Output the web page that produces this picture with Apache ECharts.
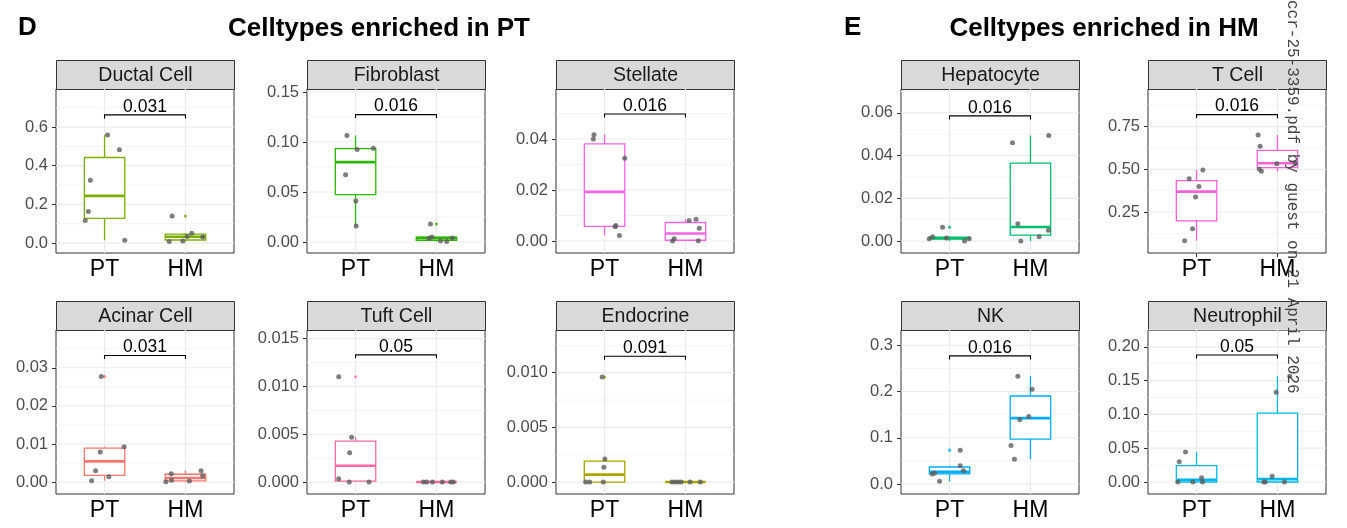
<!DOCTYPE html>
<html>
<head>
<meta charset="utf-8">
<script src="https://cdn.jsdelivr.net/npm/echarts@6/dist/echarts.min.js"></script>
<style>
  html, body { margin: 0; padding: 0; background: #fff; }
  #chart { width: 1347px; height: 528px; }
</style>
</head>
<body>
<div id="chart"></div>
<script>
// ---- data ----
const groups = ['PT', 'HM'];
const cellTypes = ['Ductal Cell', 'Fibroblast', 'Stellate', 'Acinar Cell', 'Tuft Cell', 'Endocrine',
                   'Hepatocyte', 'T Cell', 'NK', 'Neutrophil'];
const pValues = ['0.031', '0.016', '0.016', '0.031', '0.05', '0.091', '0.016', '0.016', '0.016', '0.05'];
const bracketY = [0.663, 0.1274, 0.0498, 0.0332, 0.0133, 0.0115, 0.0586, 0.820, 0.277, 0.188];
const yLimits = [[-0.052, 0.797], [-0.011, 0.153], [-0.0047, 0.0596], [-0.0031, 0.0399], [-0.00125, 0.0159],
                 [-0.00109, 0.0139], [-0.0056, 0.0712], [0.01, 0.97], [-0.0216, 0.333], [-0.0178, 0.225]];
const yTicks = [[0, 0.2, 0.4, 0.6], [0, 0.05, 0.1, 0.15], [0, 0.02, 0.04], [0, 0.01, 0.02, 0.03],
                [0, 0.005, 0.01, 0.015], [0, 0.005, 0.01], [0, 0.02, 0.04, 0.06], [0.25, 0.5, 0.75],
                [0, 0.1, 0.2, 0.3], [0, 0.05, 0.1, 0.15, 0.2]];
const tickDecimals = [1, 2, 2, 2, 3, 3, 2, 2, 1, 2];

// jittered samples [x, value], PT = 1, HM = 2
const ductalPT = [[1.037, 0.559], [1.184, 0.482], [0.824, 0.324], [0.80, 0.163], [0.762, 0.116], [1.25, 0.014]];
const ductalHM = [[1.836, 0.139], [1.799, 0.007], [1.967, 0.010], [2.02, 0.033], [2.078, 0.050], [2.213, 0.031]];
const fibroPT = [[0.894, 0.1065], [1.02, 0.0925], [1.22, 0.0938], [0.877, 0.0672], [1.004, 0.0409], [1.008, 0.016]];
const fibroHM = [[1.926, 0.018], [1.906, 0.0037], [1.943, 0.005], [2.127, 0.0005], [2.196, 0.004], [2.05, 0.001]];
const stellatePT = [[0.869, 0.0417], [0.861, 0.040], [1.249, 0.0324], [1.139, 0.0061], [1.131, 0.0056], [1.184, 0.0022]];
const stellateHM = [[2.045, 0.008], [2.131, 0.0085], [2.171, 0.005], [2.159, 0.0001], [1.861, 0.0009], [1.84, 0.0]];
const acinarPT = [[0.959, 0.0277], [1.242, 0.0093], [0.947, 0.0079], [0.889, 0.003], [1.053, 0.0014], [0.84, 0.0004]];
const acinarHM = [[1.824, 0.0022], [1.828, 0.0005], [1.758, 0.0001], [2.049, 0.0003], [2.193, 0.003], [2.213, 0.0017]];
const tuftPT = [[0.792, 0.011], [0.951, 0.00469], [0.927, 0.00306], [0.792, 0.00035], [0.922, 0], [1.167, 0]];
const tuftHM = [[1.84, 0], [1.878, 0], [1.951, 0], [2.073, 0], [2.176, 0], [2.208, 0]];
const endoPT = [[0.971, 0.0096], [1.004, 0.0021], [0.992, 0.00136], [0.767, 0], [0.816, 0], [0.984, 0]];
const endoHM = [[1.833, 0], [1.873, 0], [1.91, 0], [1.947, 0], [2.057, 0], [2.184, 0]];
const hepatoPT = [[0.749, 0.0011], [0.79, 0.002], [0.914, 0.0065], [0.963, 0.0014], [1.185, 0], [1.243, 0.0011]];
const hepatoHM = [[1.778, 0.046], [2.226, 0.0494], [1.844, 0.0081], [1.881, 0], [2.107, 0.002], [2.222, 0.005]];
const tcellPT = [[0.852, 0.082], [0.951, 0.152], [0.988, 0.338], [1.029, 0.400], [0.909, 0.445], [1.078, 0.496]];
const tcellHM = [[1.761, 0.701], [1.786, 0.635], [1.774, 0.502], [1.802, 0.488], [1.992, 0.533], [2.22, 0.537]];
const nkPT = [[0.786, 0.0215], [0.815, 0.0237], [0.877, 0.0057], [1.132, 0.0732], [1.132, 0.0395], [1.173, 0.0287]];
const nkHM = [[1.844, 0.233], [2.02, 0.205], [1.979, 0.146], [1.868, 0.139], [1.76, 0.0833], [1.802, 0.0538]];
const neutroPT = [[0.864, 0.0444], [0.786, 0.0301], [0.77, 0], [0.955, 0], [1.062, 0.0064], [1.074, 0]];
const neutroHM = [[1.984, 0.133], [1.934, 0.0084], [1.831, 0], [1.85, 0], [2.086, 0], [2.152, 0.1565]];

const panelSamples = [
  [ductalPT, ductalHM], [fibroPT, fibroHM], [stellatePT, stellateHM],
  [acinarPT, acinarHM], [tuftPT, tuftHM], [endoPT, endoHM],
  [hepatoPT, hepatoHM], [tcellPT, tcellHM], [nkPT, nkHM], [neutroPT, neutroHM]
];

// ---- look & layout ----
const boxColors = ['#7CAE00', '#2DB600', '#F564E3', '#F8766D', '#FF67A4', '#ABA300',
                   '#00BE6C', '#FB61D7', '#00ADFA', '#00B8E7'];
const panelCol = [0, 1, 2, 0, 1, 2, 3, 4, 3, 4];
const panelRow = [0, 0, 0, 1, 1, 1, 0, 0, 1, 1];
const colLeft = [56, 307, 556, 901, 1148];
const rowTop = [89, 330];
const PLOT_W = 178, PLOT_H = 164, STRIP_H = 29;
const FONT = '"Liberation Sans", Arial, Helvetica, sans-serif';

// ggplot style boxplot stats (quantile type 7, 1.5 IQR whiskers)
function quantile(sorted, p) {
  const h = (sorted.length - 1) * p;
  const lo = Math.floor(h);
  const next = lo + 1 < sorted.length ? sorted[lo + 1] : sorted[lo];
  return sorted[lo] + (h - lo) * (next - sorted[lo]);
}
function boxStats(samples, x) {
  const v = samples.map(d => d[1]).sort((a, b) => a - b);
  const q1 = quantile(v, 0.25), med = quantile(v, 0.5), q3 = quantile(v, 0.75);
  const iqr = q3 - q1;
  const lowF = q1 - 1.5 * iqr - 1e-12, highF = q3 + 1.5 * iqr + 1e-12;
  const inside = v.filter(d => d >= lowF && d <= highF);
  const outliers = v.filter(d => d < lowF || d > highF).map(d => [x, d]);
  return { box: [x, inside[0], q1, med, q3, inside[inside.length - 1]], outliers };
}

function renderBox(color) {
  return function (params, api) {
    const x = api.value(0);
    const lo = api.coord([x, api.value(1)]);
    const q1 = api.coord([x, api.value(2)]);
    const md = api.coord([x, api.value(3)]);
    const q3 = api.coord([x, api.value(4)]);
    const hi = api.coord([x, api.value(5)]);
    const left = api.coord([x - 0.25, 0])[0];
    const right = api.coord([x + 0.25, 0])[0];
    const ls = { stroke: color, lineWidth: 1.3 };
    return {
      type: 'group',
      children: [
        { type: 'line', shape: { x1: lo[0], y1: lo[1], x2: q1[0], y2: q1[1] }, style: ls },
        { type: 'line', shape: { x1: q3[0], y1: q3[1], x2: hi[0], y2: hi[1] }, style: ls },
        { type: 'rect', shape: { x: left, y: q3[1], width: right - left, height: q1[1] - q3[1] },
          style: { fill: '#fff', stroke: color, lineWidth: 1.3 } },
        { type: 'line', shape: { x1: left, y1: md[1], x2: right, y2: md[1] },
          style: { stroke: color, lineWidth: 2.6 } }
      ]
    };
  };
}

function renderGridLines(params, api) {
  const cs = params.coordSys;
  const vertical = api.value(2) === 1;
  const major = api.value(3) === 1;
  const style = { stroke: major ? '#EBEBEB' : '#F1F1F1', lineWidth: major ? 1.2 : 0.8 };
  if (vertical) {
    const px = api.coord([api.value(0), api.value(1)])[0];
    return { type: 'line', shape: { x1: px, y1: cs.y, x2: px, y2: cs.y + cs.height }, style };
  }
  const py = api.coord([api.value(0), api.value(1)])[1];
  return { type: 'line', shape: { x1: cs.x, y1: py, x2: cs.x + cs.width, y2: py }, style };
}

function renderBracket(label) {
  return function (params, api) {
    const a = api.coord([api.value(0), api.value(2)]);
    const b = api.coord([api.value(1), api.value(2)]);
    return {
      type: 'group',
      children: [
        { type: 'polyline',
          shape: { points: [[a[0], a[1] + 3.5], [a[0], a[1]], [b[0], b[1]], [b[0], b[1] + 3.5]] },
          style: { stroke: '#000', lineWidth: 1.1, fill: null } },
        { type: 'text', x: (a[0] + b[0]) / 2, y: a[1] + 1,
          style: { text: label, fill: '#000', fontSize: 17.5, fontFamily: FONT,
                   align: 'center', verticalAlign: 'bottom' } }
      ]
    };
  };
}

const option = {
  animation: false,
  backgroundColor: '#fff',
  grid: [], xAxis: [], yAxis: [], series: [], graphic: []
};

cellTypes.forEach((name, i) => {
  const left = colLeft[panelCol[i]];
  const top = rowTop[panelRow[i]];
  const color = boxColors[i];
  const ticks = yTicks[i];
  const [ymin, ymax] = yLimits[i];

  option.grid.push({
    left, top, width: PLOT_W, height: PLOT_H,
    show: true, backgroundColor: '#fff', borderColor: '#333', borderWidth: 1,
    containLabel: false, outerBoundsMode: 'none'
  });
  option.xAxis.push({
    gridIndex: i, type: 'value', min: 0.4, max: 2.6,
    axisLine: { show: false }, splitLine: { show: false },
    axisTick: { show: true, customValues: [1, 2], length: 4, lineStyle: { color: '#333', width: 1 } },
    axisLabel: { customValues: [1, 2], formatter: v => groups[Math.round(v) - 1] || '',
                 fontSize: 23, color: '#000', fontFamily: FONT, margin: 5 }
  });
  option.yAxis.push({
    gridIndex: i, type: 'value', min: ymin, max: ymax,
    axisLine: { show: false }, splitLine: { show: false },
    axisTick: { show: true, customValues: ticks, length: 4, lineStyle: { color: '#333', width: 1 } },
    axisLabel: { customValues: ticks, formatter: v => v.toFixed(tickDecimals[i]),
                 fontSize: 16.5, color: '#4D4D4D', fontFamily: FONT, margin: 8 }
  });

  // grid lines: major at ticks, minor half way between (ggplot style)
  const step = ticks[1] - ticks[0];
  const gridRows = ticks.map(t => [1.5, t, 0, 1]);
  for (let m = ticks[0] - step / 2; m <= ticks[ticks.length - 1] + step / 2 + 1e-12; m += step) {
    if (m > ymin && m < ymax) gridRows.push([1.5, m, 0, 0]);
  }
  gridRows.push([1, ymin, 1, 1], [2, ymin, 1, 1]);

  const stats = panelSamples[i].map((s, g) => boxStats(s, g + 1));
  const outliers = stats.reduce((acc, s) => acc.concat(s.outliers), []);
  const points = panelSamples[i][0].concat(panelSamples[i][1]);

  option.series.push(
    { type: 'custom', xAxisIndex: i, yAxisIndex: i, z: 1, silent: true,
      renderItem: renderGridLines, data: gridRows },
    { type: 'custom', xAxisIndex: i, yAxisIndex: i, z: 2, silent: true,
      renderItem: renderBox(color), data: stats.map(s => s.box) },
    { type: 'scatter', xAxisIndex: i, yAxisIndex: i, z: 3, silent: true,
      symbolSize: 3.2, itemStyle: { color }, data: outliers },
    { type: 'scatter', xAxisIndex: i, yAxisIndex: i, z: 4, silent: true,
      symbolSize: 5, itemStyle: { color: '#5E5E5E' }, data: points },
    { type: 'custom', xAxisIndex: i, yAxisIndex: i, z: 5, silent: true,
      renderItem: renderBracket(pValues[i]), data: [[1, 2, bracketY[i]]] }
  );

  // facet strip
  option.graphic.push({
    type: 'group', left: left, top: top - STRIP_H, z: 10,
    children: [
      { type: 'rect', shape: { x: 0, y: 0, width: PLOT_W, height: STRIP_H },
        style: { fill: '#D9D9D9', stroke: '#333', lineWidth: 1 } },
      { type: 'text', x: PLOT_W / 2, y: STRIP_H / 2 + 1,
        style: { text: name, fill: '#1A1A1A', fontSize: 19.5, fontFamily: FONT,
                 align: 'center', verticalAlign: 'middle' } }
    ]
  });
});

// panel letters and titles
const titleStyle = { fill: '#000', fontSize: 26, fontWeight: 'bold', fontFamily: FONT, verticalAlign: 'middle' };
option.graphic.push(
  { type: 'text', x: 18, y: 28, style: Object.assign({ text: 'D', align: 'left' }, titleStyle) },
  { type: 'text', x: 379, y: 29, style: Object.assign({ text: 'Celltypes enriched in PT', align: 'center' }, titleStyle) },
  { type: 'text', x: 844, y: 28, style: Object.assign({ text: 'E', align: 'left' }, titleStyle) },
  { type: 'text', x: 1104, y: 29, style: Object.assign({ text: 'Celltypes enriched in HM', align: 'center' }, titleStyle) },
  { type: 'text', x: 1292, y: 0, rotation: -Math.PI / 2, z: 100,
    style: { text: 'ccr-25-3359.pdf by guest on 21 April 2026', fill: '#444', fontSize: 16,
             fontFamily: '"Liberation Mono", "Courier New", monospace', align: 'left', verticalAlign: 'middle' } }
);

const chart = echarts.init(document.getElementById('chart'));
chart.setOption(option);
</script>
</body>
</html>
